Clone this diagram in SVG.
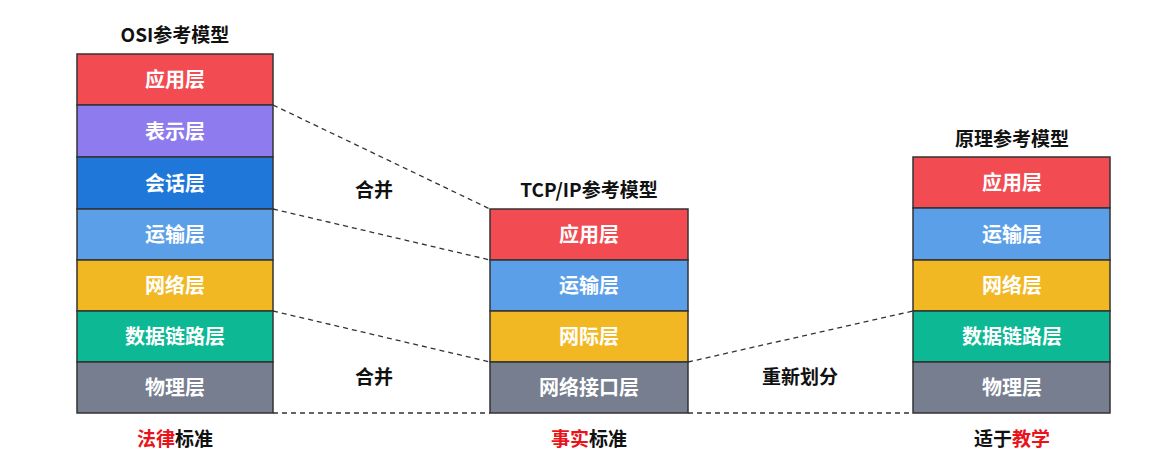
<svg xmlns="http://www.w3.org/2000/svg" width="1175" height="464" viewBox="0 0 1175 464">
<style>
text{font-family:"Noto Sans CJK SC","Liberation Sans",sans-serif;font-weight:bold;text-anchor:middle}
.l{fill:#fff;font-size:20px}
.t{fill:#111;font-size:19px}
.r{fill:#e8141a}
.n rect{stroke:#333;stroke-width:1.5}
.c{stroke:#333;stroke-width:1.3;stroke-dasharray:5,4;fill:none}
.red{fill:#F24B52}.pur{fill:#8E7CEE}.dbl{fill:#1F78D9}.lbl{fill:#5C9FE9}.yel{fill:#F2B824}.grn{fill:#0DB894}.gry{fill:#767E90}
</style>
<rect width="1175" height="464" fill="#fff"/>
<g id="connectors">
<path class="c" d="M273,105L490,209M273,209L490,260M273,311L490,362M273,413L490,413M688,362L913,311M688,413L913,413"/>
</g>
<g id="osi" class="n">
<text class="t" x="175" y="42">OSI参考模型</text>
<rect class="red" x="77" y="54" width="196" height="51"/><text class="l" x="175" y="87">应用层</text>
<rect class="pur" x="77" y="105" width="196" height="52"/><text class="l" x="175" y="139">表示层</text>
<rect class="dbl" x="77" y="157" width="196" height="52"/><text class="l" x="175" y="191">会话层</text>
<rect class="lbl" x="77" y="209" width="196" height="51"/><text class="l" x="175" y="242">运输层</text>
<rect class="yel" x="77" y="260" width="196" height="51"/><text class="l" x="175" y="293">网络层</text>
<rect class="grn" x="77" y="311" width="196" height="51"/><text class="l" x="175" y="344">数据链路层</text>
<rect class="gry" x="77" y="362" width="196" height="51"/><text class="l" x="175" y="395">物理层</text>
<text class="t" x="175" y="446"><tspan class="r">法律</tspan>标准</text>
</g>
<g id="merge-labels">
<text class="t" x="374" y="197">合并</text>
<text class="t" x="374" y="384">合并</text>
<text class="t" x="800" y="384">重新划分</text>
</g>
<g id="tcpip" class="n">
<text class="t" x="589" y="197">TCP/IP参考模型</text>
<rect class="red" x="490" y="209" width="198" height="51"/><text class="l" x="589" y="242">应用层</text>
<rect class="lbl" x="490" y="260" width="198" height="51"/><text class="l" x="589" y="293">运输层</text>
<rect class="yel" x="490" y="311" width="198" height="51"/><text class="l" x="589" y="344">网际层</text>
<rect class="gry" x="490" y="362" width="198" height="51"/><text class="l" x="589" y="395">网络接口层</text>
<text class="t" x="589" y="446"><tspan class="r">事实</tspan>标准</text>
</g>
<g id="principle" class="n">
<text class="t" x="1012" y="146">原理参考模型</text>
<rect class="red" x="913" y="157" width="197" height="51"/><text class="l" x="1012" y="190">应用层</text>
<rect class="lbl" x="913" y="208" width="197" height="52"/><text class="l" x="1012" y="242">运输层</text>
<rect class="yel" x="913" y="260" width="197" height="51"/><text class="l" x="1012" y="293">网络层</text>
<rect class="grn" x="913" y="311" width="197" height="51"/><text class="l" x="1012" y="344">数据链路层</text>
<rect class="gry" x="913" y="362" width="197" height="51"/><text class="l" x="1012" y="395">物理层</text>
<text class="t" x="1012" y="446">适于<tspan class="r">教学</tspan></text>
</g>
</svg>
